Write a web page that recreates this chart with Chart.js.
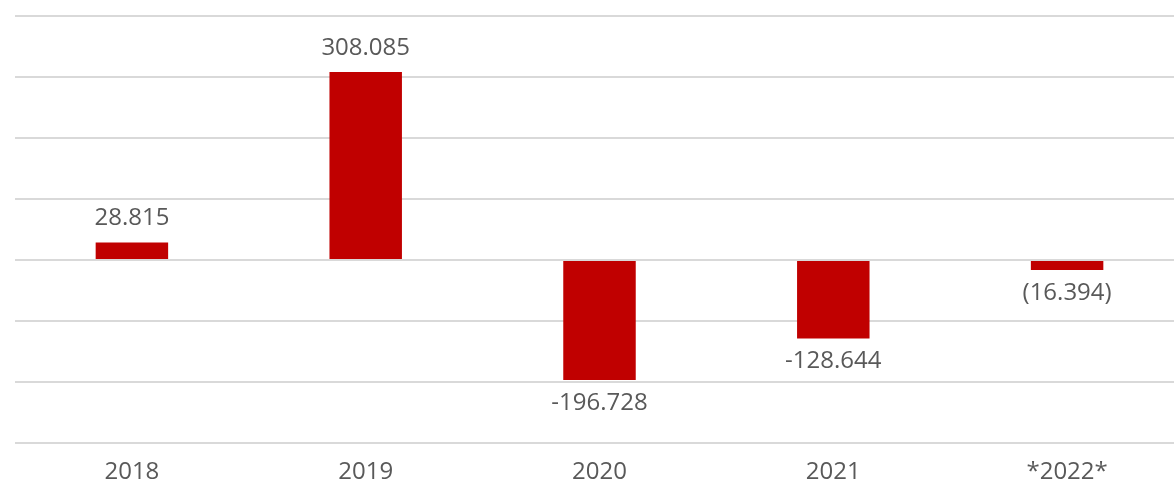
<!DOCTYPE html>
<html lang="es">
<head>
  <meta charset="UTF-8">
  <title>Resultado</title>
  <script src="https://cdn.jsdelivr.net/npm/chart.js"></script>
  <style>
    html, body { margin: 0; padding: 0; background: #ffffff; overflow: hidden; }
    #wrap { width: 1184px; height: 481px; }
  </style>
</head>
<body>
  <div id="wrap"><canvas id="chart" width="1184" height="481"></canvas></div>

  <script>
  // datos
  const years = ['2018', '2019', '2020', '2021', '*2022*'];
  const values = [28815, 308085, -196728, -128644, -16394];
  const valueLabels = ['28.815', '308.085', '-196.728', '-128.644', '(16.394)'];

  const txtColor = '#595959';
  const fontFam = "'Open Sans', sans-serif";

  // etiquetas encima / debajo de las barras
  const barLabels = {
    id: 'barLabels',
    afterDatasetsDraw(chart) {
      const ctx = chart.ctx;
      const meta = chart.getDatasetMeta(0);
      ctx.save();
      ctx.font = '24px ' + fontFam;
      ctx.fillStyle = txtColor;
      ctx.textAlign = 'center';
      meta.data.forEach(function(bar, i) {
        if (values[i] >= 0) {
          ctx.textBaseline = 'bottom';
          ctx.fillText(valueLabels[i], bar.x, bar.y - 12);
        } else {
          ctx.textBaseline = 'top';
          ctx.fillText(valueLabels[i], bar.x, bar.y + 11);
        }
      });
      ctx.restore();
    }
  };

  const ctx = document.getElementById('chart').getContext('2d');
  const chart = new Chart(ctx, {
    type: 'bar',
    data: {
      labels: years,
      datasets: [{
        data: values,
        backgroundColor: '#c00000',
        borderWidth: 0,
        barPercentage: 0.31,
        categoryPercentage: 1
      }]
    },
    options: {
      responsive: false,
      animation: false,
      layout: { padding: { left: 15, top: 16, right: 0, bottom: 0 } },
      plugins: {
        legend: { display: false },
        tooltip: { enabled: false }
      },
      scales: {
        x: {
          grid: { display: false, drawTicks: false },
          border: { display: false },
          ticks: { color: txtColor, font: { family: fontFam, size: 24 }, padding: 15 },
          afterFit: function(scale) { scale.height = 38; }
        },
        y: {
          min: -300000,
          max: 400000,
          ticks: { display: false, stepSize: 100000 },
          border: { display: false },
          grid: { color: '#d9d9d9', lineWidth: 2, drawTicks: false }
        }
      }
    },
    plugins: [barLabels]
  });
  </script>
</body>
</html>
